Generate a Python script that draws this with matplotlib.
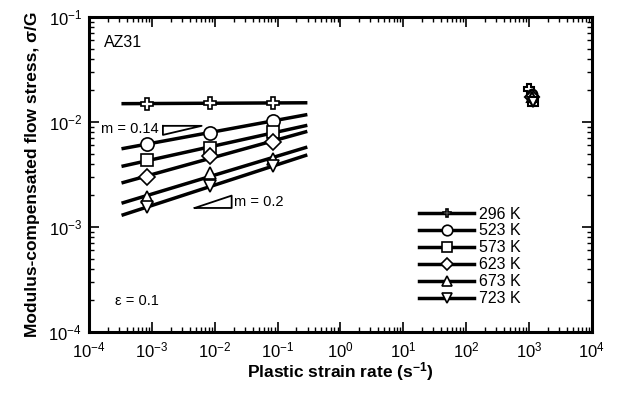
import numpy as np
import matplotlib
matplotlib.use("Agg")
import matplotlib.pyplot as plt
from matplotlib.ticker import LogLocator, NullFormatter

plt.rcParams['font.family'] = ['Liberation Sans', 'DejaVu Sans']
plt.rcParams['mathtext.fontset'] = 'custom'
plt.rcParams['mathtext.rm'] = 'Liberation Sans'
plt.rcParams['mathtext.it'] = 'Liberation Sans:italic'
plt.rcParams['mathtext.bf'] = 'Liberation Sans:bold'

# ---- data ----
temps = ["296 K", "523 K", "573 K", "623 K", "673 K", "723 K"]
markers = ["P", "o", "s", "D", "^", "v"]
rates = [8.5e-4, 8.5e-3, 8.5e-2]
stress_296 = [1.50e-2, 1.51e-2, 1.52e-2]
stress_523 = [6.2e-3, 7.9e-3, 1.03e-2]
stress_573 = [4.35e-3, 5.65e-3, 8.0e-3]
stress_623 = [3.0e-3, 4.75e-3, 6.45e-3]
stress_673 = [1.93e-3, 3.27e-3, 4.44e-3]
stress_723 = [1.55e-3, 2.45e-3, 3.8e-3]
low_rate_stress = [stress_296, stress_523, stress_573, stress_623, stress_673, stress_723]
fit_range = [3.5e-4, 0.28]

high_rates = [1000, 1100, 1150, 1100, 1100, 1150]
high_stress = [2.05e-2, 1.85e-2, 1.6e-2, 1.75e-2, 1.75e-2, 1.55e-2]

fig = plt.figure(figsize=(6.21, 4.05), dpi=100)
ax = fig.add_axes([0.1433, 0.180, 0.8097, 0.778])
ax.set_xscale('log')
ax.set_yscale('log')
ax.set_xlim(1e-4, 1e4)
ax.set_ylim(1e-4, 1e-1)

msizes = [8, 9.5, 9, 8, 9, 9]
for lab, mk, ys, ms in zip(temps, markers, low_rate_stress, msizes):
    lx = np.log10(rates)
    ly = np.log10(ys)
    p = np.polyfit(lx, ly, 1)
    xr = np.array(fit_range)
    yr = 10 ** np.polyval(p, np.log10(xr))
    ax.plot(xr, yr, color='black', lw=2.5, zorder=2)
    ax.plot(rates, ys, linestyle='none', marker=mk, ms=ms, mfc='white',
            mec='black', mew=1.2, zorder=3)
    # legend proxy
    ax.plot([], [], color='black', lw=2.5, marker=mk, ms=ms * 0.8, mfc='white',
            mec='black', mew=1.2, label=lab)

for mk, hx, hy in zip(markers, high_rates, high_stress):
    ax.plot(hx, hy, linestyle='none', marker=mk, ms=7, mfc='white',
            mec='black', mew=1.5, zorder=3)

# slope triangles
x1, x2, yt, m = 1.5e-3, 6.2e-3, 9.2e-3, 0.14
yb = yt / (x2 / x1) ** m
ax.plot([x1, x1, x2, x1], [yt, yb, yt, yt], color='black', lw=1.3)
ax.text(1.3e-3, 8.5e-3, "m = 0.14", fontsize=10.5, ha='right', va='center')

x1, x2, yb, m = 4.8e-3, 1.86e-2, 1.52e-3, 0.2
yt = yb * (x2 / x1) ** m
ax.plot([x1, x2, x2, x1], [yb, yb, yt, yb], color='black', lw=1.3)
ax.text(2.05e-2, 1.75e-3, "m = 0.2", fontsize=10.5, ha='left', va='center')

ax.text(0.03, 0.905, "AZ31", transform=ax.transAxes, fontsize=11.5)
ax.text(0.052, 0.085, "ε = 0.1", transform=ax.transAxes, fontsize=10.5)

ax.legend(loc='upper left', bbox_to_anchor=(0.635, 0.434), frameon=False,
          fontsize=11.5, handlelength=3.4, labelspacing=0.12,
          handletextpad=0.3, borderpad=0.2)

for s in ax.spines.values():
    s.set_linewidth(2.2)
ax.tick_params(which='both', direction='in', top=True, right=True)
ax.tick_params(which='major', length=7, width=1.2, labelsize=12, pad=5)
ax.tick_params(which='minor', length=3.5, width=1.0)
ax.tick_params(axis='x', which='major', pad=6)
ax.xaxis.set_major_locator(LogLocator(base=10, numticks=20))
ax.xaxis.set_minor_locator(LogLocator(base=10, subs=np.arange(2, 10), numticks=20))
ax.xaxis.set_minor_formatter(NullFormatter())
ax.yaxis.set_minor_locator(LogLocator(base=10, subs=np.arange(2, 10), numticks=20))
ax.yaxis.set_minor_formatter(NullFormatter())

ax.set_xlabel("Plastic strain rate (s$^{\\mathbf{-1}}$)", fontsize=12.5, fontweight='bold', labelpad=0)
ax.set_ylabel("Modulus-compensated flow stress, σ/G", fontsize=12.5, fontweight='bold', labelpad=6)

fig.savefig("out.png", dpi=100)
